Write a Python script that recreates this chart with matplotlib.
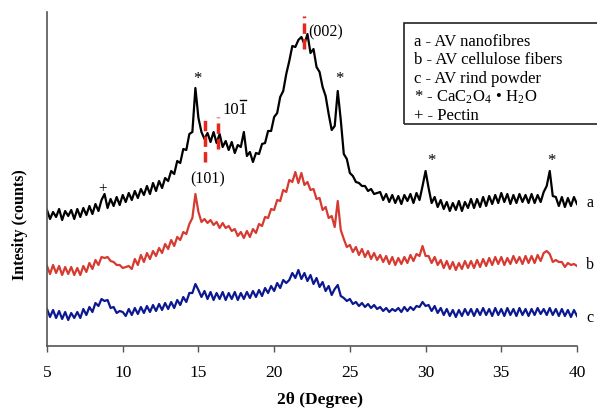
import numpy as np
import matplotlib
matplotlib.use("Agg")
import matplotlib.pyplot as plt
from matplotlib.patches import Rectangle
from matplotlib.lines import Line2D

two_theta = np.round(np.arange(5.0, 40.001, 0.2), 2)

# Curve a - AV nanofibres (offset intensity)
a_vals = [
    136, 127, 134, 129, 137, 126, 135, 130, 136, 127,
    137, 129, 138, 131, 140, 132, 142, 135, 146, 152,
    138, 147, 140, 149, 141, 151, 144, 153, 146, 155,
    148, 157, 151, 160, 152, 163, 155, 165, 158, 168,
    165, 175, 172, 185, 183, 197, 196, 212, 214, 258,
    228, 214, 207, 213, 204, 214, 203, 212, 199, 205,
    196, 204, 193, 201, 199, 214, 190, 194, 184, 193,
    192, 202, 203, 215, 215, 229, 233, 249, 255, 272,
    285, 300, 299, 306, 309, 302, 312, 293, 297, 279,
    274, 259, 250, 232, 216, 220, 255, 226, 192, 187,
    173, 170, 164, 163, 160, 160, 155, 157, 152, 153,
    154, 146, 152, 144, 151, 143, 150, 142, 151, 145,
    152, 143, 153, 146, 160, 175, 158, 143, 149, 139,
    146, 137, 144, 135, 143, 136, 145, 135, 144, 138,
    147, 138, 147, 139, 149, 140, 150, 142, 151, 143,
    153, 144, 152, 142, 151, 143, 152, 144, 151, 143,
    152, 143, 151, 144, 154, 160, 175, 150, 149, 140,
    149, 139, 148, 140, 149, 142,
]

# Curve b - AV cellulose fibers
b_vals = [
    80, 72, 81, 73, 80, 71, 79, 72, 79, 71,
    78, 71, 80, 74, 83, 77, 86, 81, 89, 88,
    89, 85, 84, 81, 81, 78, 79, 80, 77, 87,
    81, 91, 84, 93, 87, 95, 90, 98, 93, 102,
    97, 106, 100, 109, 106, 114, 112, 122, 128, 152,
    134, 124, 127, 123, 126, 121, 124, 118, 123, 118,
    120, 115, 117, 110, 114, 108, 115, 109, 117, 113,
    122, 120, 129, 128, 137, 136, 146, 145, 156, 154,
    166, 164, 174, 163, 173, 161, 164, 156, 157, 147,
    148, 136, 139, 128, 130, 119, 145, 116, 107, 99,
    101, 94, 99, 91, 97, 89, 95, 87, 93, 86,
    91, 84, 90, 82, 89, 81, 88, 82, 89, 83,
    91, 85, 92, 90, 100, 90, 90, 83, 89, 81,
    86, 78, 85, 77, 84, 76, 83, 77, 85, 78,
    85, 78, 86, 79, 87, 80, 88, 81, 89, 82,
    89, 81, 88, 82, 90, 83, 89, 82, 90, 83,
    90, 83, 91, 85, 93, 95, 92, 84, 86, 84,
    84, 79, 83, 81, 82, 80,
]

# Curve c - AV rind powder
c_vals = [
    37, 29, 36, 28, 35, 27, 34, 26, 33, 28,
    34, 28, 37, 31, 39, 34, 43, 40, 47, 45,
    46, 38, 39, 33, 35, 34, 30, 37, 31, 38,
    32, 39, 33, 40, 34, 41, 35, 42, 36, 43,
    37, 44, 38, 46, 41, 49, 44, 53, 53, 62,
    56, 49, 55, 47, 54, 46, 53, 47, 54, 46,
    53, 47, 54, 46, 53, 47, 54, 48, 55, 49,
    56, 50, 58, 53, 60, 55, 63, 58, 66, 63,
    66, 73, 68, 76, 67, 73, 65, 71, 62, 68,
    59, 64, 55, 60, 51, 57, 61, 50, 48, 45,
    47, 42, 44, 40, 43, 39, 42, 38, 41, 37,
    39, 35, 38, 34, 37, 35, 38, 34, 39, 35,
    39, 36, 40, 39, 44, 40, 41, 35, 40, 33,
    38, 31, 37, 30, 36, 29, 36, 30, 37, 31,
    37, 30, 37, 31, 38, 31, 37, 30, 38, 31,
    37, 30, 38, 31, 37, 30, 38, 31, 37, 30,
    37, 31, 38, 32, 37, 31, 38, 31, 37, 30,
    37, 30, 36, 29, 36, 30,
]

x_ticks = [5, 10, 15, 20, 25, 30, 35, 40]
legend_lines = [
    "a - AV nanofibres",
    "b - AV cellulose fibers",
    "c - AV rind powder",
    r"* - CaC$_\mathregular{2}$O$_\mathregular{4}$ • H$_\mathregular{2}$O",
    "+ - Pectin",
]
star_peaks = [(14.9, 268), (24.3, 268), (30.4, 186), (38.3, 186)]
plus_peaks = [(8.7, 158)]
dash_lines = [(15.45, 184, 229), (16.3, 197, 229), (21.97, 297, 330)]
curve_tags = [("a", 144), ("b", 82), ("c", 29)]

plt.rcParams['font.family'] = ['Liberation Serif', 'DejaVu Serif']
plt.rcParams['mathtext.fontset'] = 'stix'

W, H = 597, 410
fig = plt.figure(figsize=(W / 100, H / 100), dpi=100)
ax = fig.add_axes([47 / W, 1 - 347 / H, 530 / W, 334 / H])

ax.plot(two_theta, a_vals, color='black', lw=1.6)
ax.plot(two_theta, b_vals, color='#d63a30', lw=1.6)
ax.plot(two_theta, c_vals, color='#0b1890', lw=1.6)

for x0, y0, y1 in dash_lines:
    ax.plot([x0, x0], [y0, y1], color='#e8261c', lw=2.5, ls=(0, (3, 1.5)), zorder=5)

for x0, y0 in star_peaks:
    ax.text(x0, y0, "*", ha='center', va='center', fontsize=12)
for x0, y0 in plus_peaks:
    ax.text(x0, y0, "+", ha='center', va='center', fontsize=11)

ax.text(22.24, 315, "(002)", ha='left', va='center', fontsize=11.5)
ax.text(14.45, 168, "(101)", ha='left', va='center', fontsize=11.5)
miller = ax.text(16.56, 237, "101", ha='left', va='center', fontsize=12)

for t, y0 in curve_tags:
    ax.text(40.85, y0, t, ha='center', va='center', fontsize=11.5, clip_on=False)

ax.set_xlim(5, 40)
ax.set_ylim(0, 334)
ax.set_xticks(x_ticks)
ax.set_xticklabels([str(t) for t in x_ticks], fontsize=12.5)
ax.set_yticks([])
ax.tick_params(axis='x', direction='out', length=4, width=1, color='#555555', pad=9)
for s in ['top', 'right']:
    ax.spines[s].set_visible(False)
for s in ['left', 'bottom']:
    ax.spines[s].set_color('#555555')
    ax.spines[s].set_linewidth(1.2)

fig.text(320 / W, 1 - 400 / H, "2θ (Degree)", ha='center', va='center',
         fontsize=12.5, fontweight='bold')
fig.text(20 / W, 1 - 225 / H, "Intesity (counts)", ha='center', va='center',
         fontsize=11.5, fontweight='bold', rotation=90)

fig.patches.append(Rectangle((404 / W, 1 - 125 / H), 200 / W, 101 / H,
                             transform=fig.transFigure, fill=False,
                             edgecolor='#222222', lw=1.2))
for i, t in enumerate(legend_lines):
    fig.text(414 / W, 1 - (42 + 18.5 * i) / H, t, ha='left', va='center', fontsize=12)

# overbar on the last digit of the Miller index
fig.canvas.draw()
bb = miller.get_window_extent()
x_start = bb.x0 + bb.width * 0.70
x_end = bb.x1 - bb.width * 0.04
y_bar = bb.y1 + 1
fig.lines.append(Line2D([x_start / W, x_end / W], [y_bar / H, y_bar / H],
                        transform=fig.transFigure, color='black', lw=1.0))

fig.savefig("out.png", dpi=100)
